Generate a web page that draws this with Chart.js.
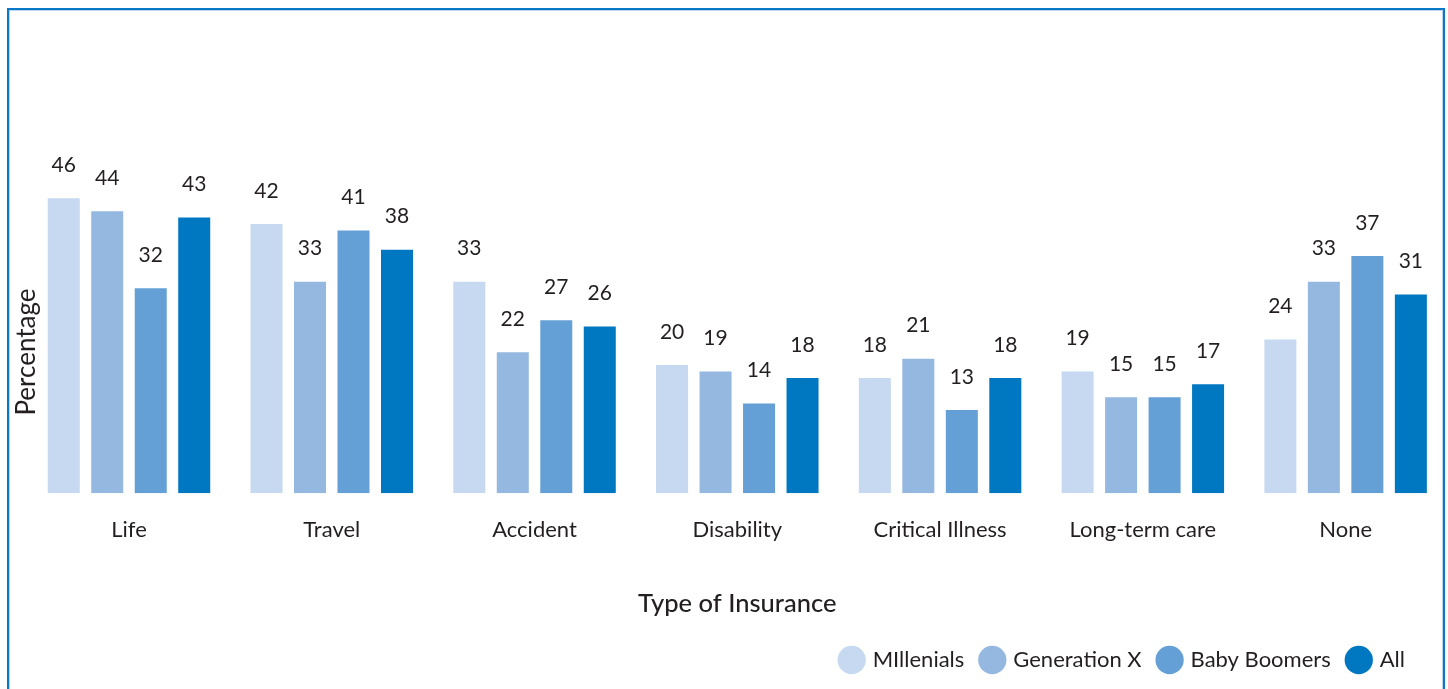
<!DOCTYPE html>
<html>
<head>
<meta charset="utf-8">
<script src="https://cdn.jsdelivr.net/npm/chart.js@4.4.1/dist/chart.umd.min.js"></script>
<style>
  html, body { margin: 0; padding: 0; background: #fff; }
  #frame {
    position: absolute; left: 7px; top: 8px; width: 1434px; height: 720px;
    border: 2px solid #0a78c6; border-bottom: none;
    box-shadow: inset 0 0 0 1px #bcd6ee;
  }
  #wrap { position: absolute; left: 0; top: 0; width: 1448px; height: 689px; }
</style>
</head>
<body>
<div id="frame"></div>
<div id="wrap"><canvas id="insuranceChart"></canvas></div>
<script>
// categorias y series
var categorias = ['Life', 'Travel', 'Accident', 'Disability', 'Critical Illness', 'Long-term care', 'None'];
var millenials = [46, 42, 33, 20, 18, 19, 24];
var generacionX = [44, 33, 22, 19, 21, 15, 33];
var babyBoomers = [32, 41, 27, 14, 13, 15, 37];
var todos = [43, 38, 26, 18, 18, 17, 31];
var series = ['MIllenials', 'Generation X', 'Baby Boomers', 'All'];
var colores = ['#c6d9f0', '#95b8e0', '#64a0d6', '#0077c1'];

var textoColor = '#231f20';
var fuente = 'Lato, "Open Sans", sans-serif';
Chart.defaults.font.family = fuente;
Chart.defaults.color = textoColor;

// valores encima de cada barra + titulo del eje y
var etiquetasPlugin = {
  id: 'etiquetas',
  afterLayout: function(chart) {
    // mover la leyenda un poco a la izquierda
    chart.legend.left -= 24;
    chart.legend.right -= 24;
  },
  afterDatasetsDraw: function(chart) {
    var ctx = chart.ctx;
    ctx.save();
    ctx.font = '21px ' + fuente;
    ctx.fillStyle = textoColor;
    ctx.textAlign = 'center';
    ctx.textBaseline = 'middle';
    chart.data.datasets.forEach(function(ds, i) {
      chart.getDatasetMeta(i).data.forEach(function(bar, j) {
        ctx.fillText(ds.data[j], bar.x, bar.y - 33);
      });
    });
    // titulo eje y
    ctx.translate(27, 352);
    ctx.rotate(-Math.PI / 2);
    ctx.font = '26px ' + fuente;
    ctx.fillText('Percentage', 0, 0);
    ctx.restore();
  }
};

var ctx = document.getElementById('insuranceChart').getContext('2d');
var grafico = new Chart(ctx, {
  type: 'bar',
  data: {
    labels: categorias,
    datasets: [
      { label: series[0], data: millenials, backgroundColor: colores[0] },
      { label: series[1], data: generacionX, backgroundColor: colores[1] },
      { label: series[2], data: babyBoomers, backgroundColor: colores[2] },
      { label: series[3], data: todos, backgroundColor: colores[3] }
    ]
  },
  options: {
    responsive: true,
    maintainAspectRatio: false,
    animation: false,
    categoryPercentage: 0.858,
    barPercentage: 0.736,
    layout: { padding: { left: 27.6, right: 1, top: 108.6, bottom: 8 } },
    plugins: {
      legend: {
        position: 'bottom',
        align: 'end',
        labels: {
          usePointStyle: true,
          pointStyle: 'circle',
          boxWidth: 20,
          boxHeight: 20,
          padding: 18,
          color: textoColor,
          font: { size: 22 }
        }
      },
      tooltip: { enabled: false }
    },
    scales: {
      x: {
        grid: { display: false, drawTicks: false },
        border: { display: false },
        ticks: { padding: 23, color: textoColor, font: { size: 22 } },
        title: {
          display: true,
          text: 'Type of Insurance',
          color: textoColor,
          font: { size: 25.5, weight: '500' },
          padding: { top: 23.2, bottom: 11.5 }
        }
      },
      y: {
        display: false,
        min: 0,
        max: 60
      }
    }
  },
  plugins: [etiquetasPlugin]
});
</script>
</body>
</html>
